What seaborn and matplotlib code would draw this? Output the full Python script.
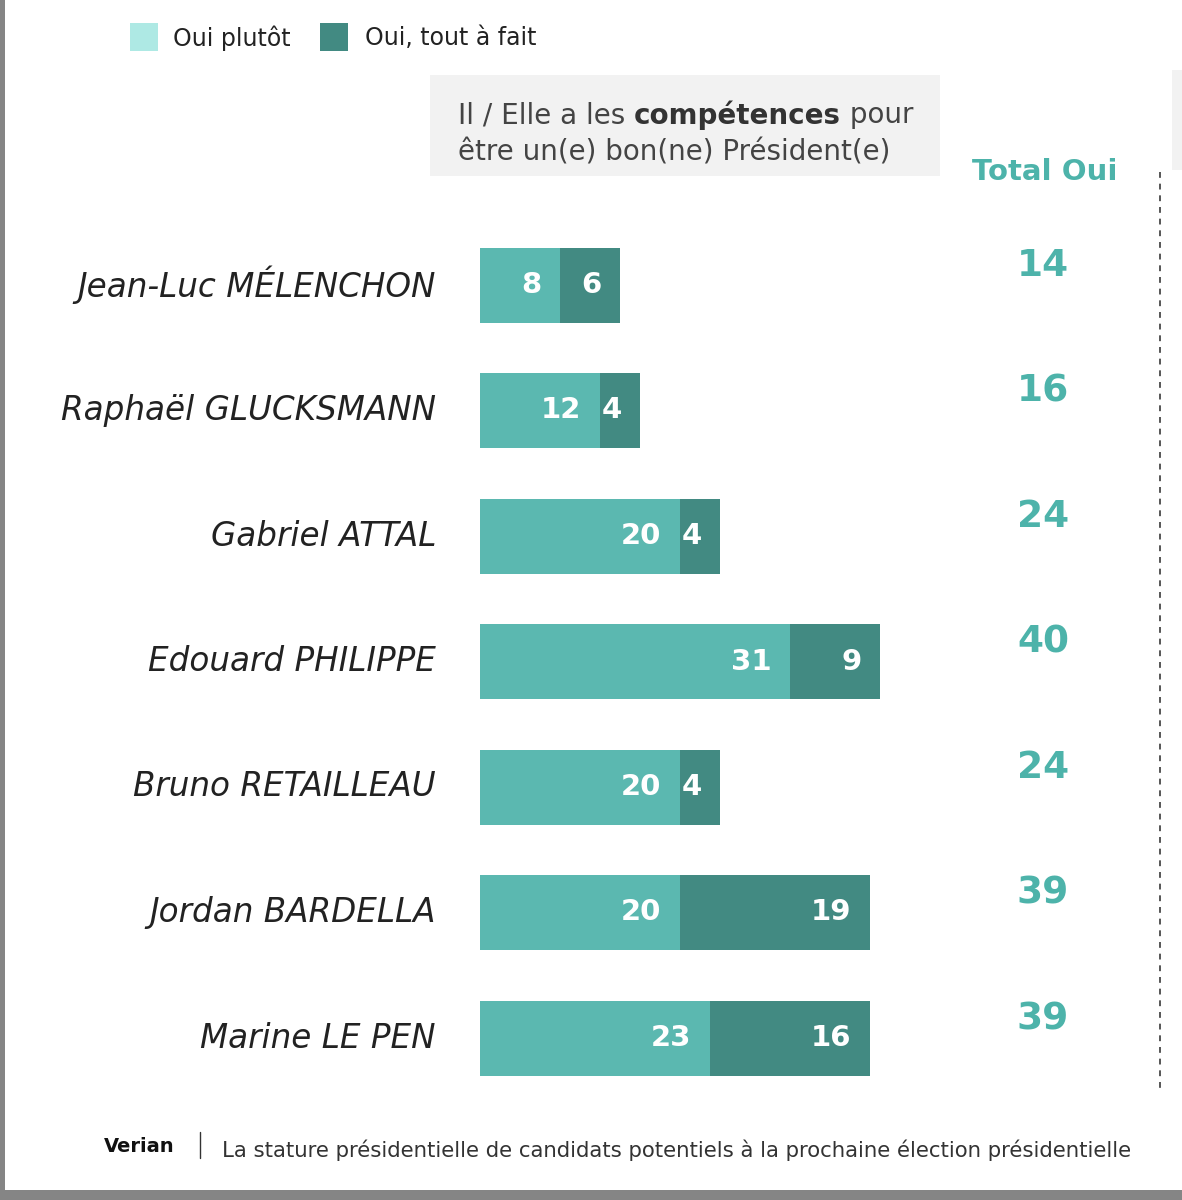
import pandas as pd
import matplotlib
matplotlib.use("Agg")
import matplotlib.pyplot as plt
import seaborn as sns
from matplotlib.patches import Rectangle
from matplotlib.lines import Line2D

# Data
candidates = ["Jean-Luc MÉLENCHON", "Raphaël GLUCKSMANN", "Gabriel ATTAL",
              "Edouard PHILIPPE", "Bruno RETAILLEAU", "Jordan BARDELLA",
              "Marine LE PEN"]
oui_plutot = [8, 12, 20, 31, 20, 20, 23]
oui_tout_a_fait = [6, 4, 4, 9, 4, 19, 16]
total_oui = [14, 16, 24, 40, 24, 39, 39]

legend_labels = ["Oui plutôt", "Oui, tout à fait"]
header_bold = "compétences"
footer_brand = "Verian"
footer_text = "La stature présidentielle de candidats potentiels à la prochaine élection présidentielle"

# Colours
light_bar = "#5bb8b0"
dark_bar = "#428a82"
legend_light = "#aee9e4"
total_col = "#4db3aa"
text_col = "#222222"

df = pd.DataFrame({
    "candidate": candidates,
    "plutot": oui_plutot,
    "tout": oui_tout_a_fait,
})
df["stack"] = df["plutot"] + df["tout"]

sns.set_theme(style="white")
plt.rcParams["font.family"] = ["DejaVu Sans"]

W, H = 1182, 1200
fig = plt.figure(figsize=(W / 100, H / 100), dpi=100)
fig.patch.set_facecolor("white")


def fx(px):
    return px / W


def fy(py):
    return 1 - py / H


# axes covering the whole figure, x: 10 px per point, 0 at px 480
ax = fig.add_axes([0, 0, 1, 1])
row_step = 125.5
row0 = 285
bar_h = 75 / row_step

sns.barplot(data=df, y="candidate", x="stack", color=dark_bar, orient="h",
            width=bar_h, ax=ax, saturation=1, errorbar=None, linewidth=0)
sns.barplot(data=df, y="candidate", x="plutot", color=light_bar, orient="h",
            width=bar_h, ax=ax, saturation=1, errorbar=None, linewidth=0)

ax.set_xlim(-480 / 10, (W - 480) / 10)
ax.set_ylim((H - row0) / row_step, -row0 / row_step)
ax.axis("off")

# values inside bars
for i, row in df.iterrows():
    ax.text(row["plutot"] - 1.85, i, str(row["plutot"]), ha="right", va="center",
            color="white", fontsize=21, fontweight="bold")
    ax.text(row["stack"] - 1.85, i, str(row["tout"]), ha="right", va="center",
            color="white", fontsize=21, fontweight="bold")
    # candidate names
    ax.text(-4.4, i, row["candidate"], ha="right", va="center", color=text_col,
            fontsize=23.5, fontstyle="italic")

# totals column
for i, t in enumerate(total_oui):
    ax.text(56.3, i - 0.15, str(t), ha="center", va="center", color=total_col,
            fontsize=27, fontweight="bold")

fig.text(fx(1045), fy(172), "Total Oui", ha="center", va="center",
         color=total_col, fontsize=21, fontweight="bold")

# dotted separator
fig.add_artist(Line2D([fx(1160), fx(1160)], [fy(172), fy(1092)],
                      color="#555555", lw=1.4, linestyle=(0, (3, 3))))

# header box
fig.add_artist(Rectangle((fx(430), fy(176)), fx(940) - fx(430), fy(75) - fy(176),
                         facecolor="#f2f2f2", edgecolor="none", zorder=0))
fig.add_artist(Rectangle((fx(1172), fy(170)), fx(W) - fx(1172), fy(70) - fy(170),
                         facecolor="#f2f2f2", edgecolor="none", zorder=0))
t1 = fig.text(fx(458), fy(115), "Il / Elle a les ", ha="left", va="center",
              color="#444444", fontsize=20)
fig.canvas.draw()
r = fig.canvas.get_renderer()
bb = t1.get_window_extent(r)
t2 = fig.text(bb.x1 / W, fy(115), header_bold, ha="left", va="center",
              color="#333333", fontsize=20, fontweight="bold")
bb2 = t2.get_window_extent(r)
fig.text(bb2.x1 / W, fy(115), " pour", ha="left", va="center",
         color="#444444", fontsize=20)
fig.text(fx(458), fy(153), "être un(e) bon(ne) Président(e)", ha="left",
         va="center", color="#444444", fontsize=20)

# legend
fig.add_artist(Rectangle((fx(130), fy(51)), fx(28), 28 / H,
                         facecolor=legend_light, edgecolor="none"))
fig.text(fx(173), fy(38), legend_labels[0], ha="left", va="center",
         color=text_col, fontsize=17)
fig.add_artist(Rectangle((fx(320), fy(51)), fx(28), 28 / H,
                         facecolor=dark_bar, edgecolor="none"))
fig.text(fx(365), fy(38), legend_labels[1], ha="left", va="center",
         color=text_col, fontsize=17)

# footer
fig.text(fx(104), fy(1147), footer_brand, ha="left", va="center",
         color="#111111", fontsize=14, fontweight="bold")
fig.add_artist(Line2D([fx(200), fx(200)], [fy(1132), fy(1158)],
                      color="#333333", lw=1))
fig.text(fx(222), fy(1150), footer_text, ha="left", va="center",
         color="#333333", fontsize=15.3)

# grey frame of the screenshot
fig.add_artist(Rectangle((0, 0), fx(5), 1, facecolor="#858585",
                         edgecolor="none"))
fig.add_artist(Rectangle((0, 0), 1, 10 / H, facecolor="#858585",
                         edgecolor="none"))

fig.savefig("out.png", dpi=100)
